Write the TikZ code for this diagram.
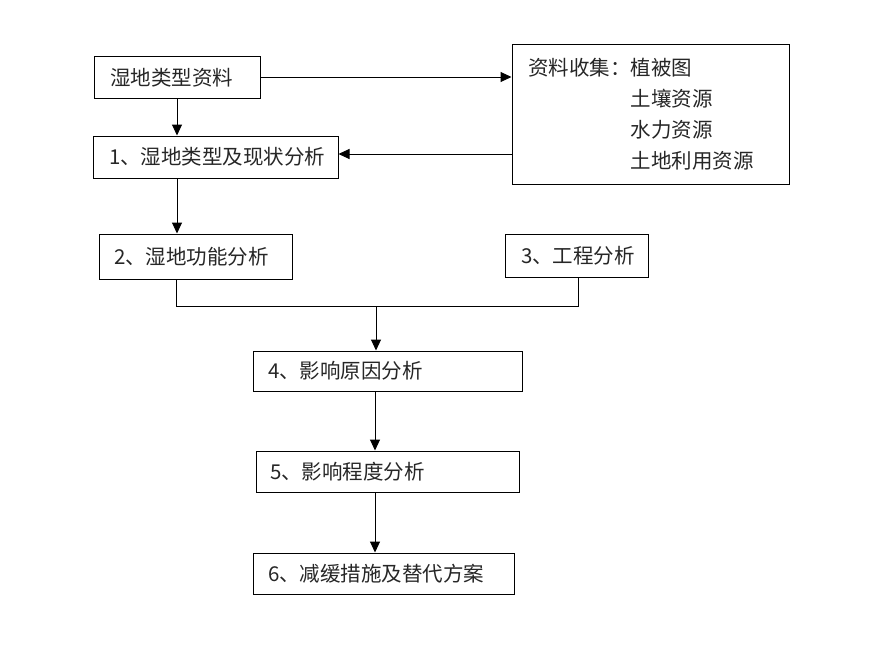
\documentclass[tikz,border=0pt]{standalone}
\usepackage{fontspec}
\setmainfont{Noto Sans CJK SC}
\usetikzlibrary{arrows.meta}
\begin{document}
\begin{tikzpicture}[x=1pt,y=-1pt,
  font=\fontsize{20.5pt}{31pt}\selectfont,
  every node/.style={text=black!85},
  box/.style={draw=black, line width=1pt, align=left, inner ysep=0pt, anchor=center},
  arr/.style={draw=black, line width=1pt, -{Triangle[length=11pt,width=10pt]}},
  ln/.style={draw=black, line width=1pt}]
\useasboundingbox (0,0) rectangle (880,661);
% boxes: center, width, height, left padding
\node[box, minimum width=166pt, minimum height=41pt, text width=134pt, inner xsep=16pt] (b0) at (177,77.5) {湿地类型资料};
\node[box, minimum width=245pt, minimum height=42pt, text width=213pt, inner xsep=16pt] (b1) at (215.5,157) {1、湿地类型及现状分析};
\node[box, minimum width=277pt, minimum height=139pt, text width=245pt, inner xsep=16pt] (bR) at (650.5,114.5) {资料收集：植被图\\\hspace*{5em}土壤资源\\\hspace*{5em}水力资源\\\hspace*{5em}土地利用资源};
\node[box, minimum width=193pt, minimum height=45pt, text width=163pt, inner xsep=15pt] (b2) at (195.5,256.5) {2、湿地功能分析};
\node[box, minimum width=143pt, minimum height=43pt, text width=111pt, inner xsep=16pt] (b3) at (576.5,255.5) {3、工程分析};
\node[box, minimum width=269pt, minimum height=40pt, text width=239pt, inner xsep=15pt] (b4) at (387.5,371) {4、影响原因分析};
\node[box, minimum width=263pt, minimum height=41pt, text width=235pt, inner xsep=14pt] (b5) at (387.5,471.5) {5、影响程度分析};
\node[box, minimum width=261pt, minimum height=41pt, text width=231pt, inner xsep=15pt] (b6) at (383.5,573.5) {6、减缓措施及替代方案};
\coordinate (j) at (376,306);
% connectors
\draw[arr] (b0.south -| 177,0) -- (b1.north -| 177,0);
\draw[arr] (b0.east |- 0,77) -- (bR.west |- 0,77);
\draw[arr] (bR.west |- 0,154) -- (b1.east |- 0,154);
\draw[arr] (b1.south -| 177,0) -- (b2.north -| 177,0);
\draw[ln] (b2.south -| 176,0) -- (j -| 176,0) -- (j -| 578,0) -- (b3.south -| 578,0);
\draw[arr] (j) -- (b4.north -| j);
\draw[arr] (b4.south -| 375,0) -- (b5.north -| 375,0);
\draw[arr] (b5.south -| 375,0) -- (b6.north -| 375,0);
\end{tikzpicture}
\end{document}
